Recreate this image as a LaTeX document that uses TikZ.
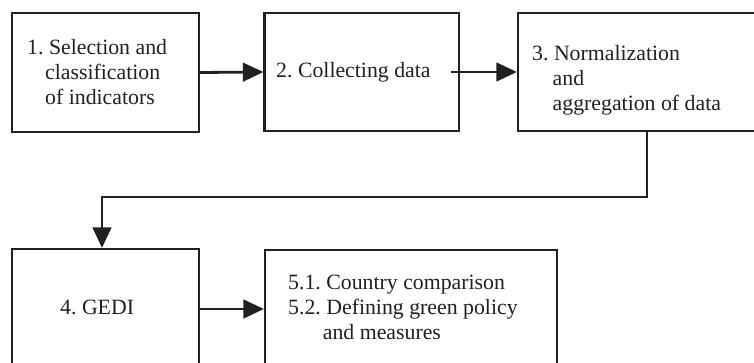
\documentclass[tikz,border=0pt]{standalone}
\usepackage{fontspec}
\setmainfont{Liberation Serif}
\frenchspacing
\usetikzlibrary{arrows.meta}
\definecolor{ink}{HTML}{231F20}
\tikzset{
  box/.style={draw=ink, line width=2.2pt, rectangle, inner sep=0pt},
  lbl/.style={anchor=base west, inner sep=0pt, text=ink, font=\fontsize{21.8}{25}\selectfont},
  arr/.style={draw=ink, line width=2.8pt, -{Triangle[length=20.5pt,width=18.5pt]}},
}
\begin{document}
\begin{tikzpicture}[x=1pt,y=-1pt]
\useasboundingbox (0,0) rectangle (754,363);
\clip (0,0) rectangle (754,363);
% boxes
\node[box, minimum width=187pt, minimum height=119pt] (b1) at (105.5,72.5) {};
\node[box, minimum width=194.5pt, minimum height=118pt] (b2) at (361.75,72) {};
\node[box, minimum width=300pt, minimum height=118pt] (b3) at (668,72) {};
\node[box, minimum width=187pt, minimum height=171pt] (b4) at (105.5,334.5) {};
\node[box, minimum width=292pt, minimum height=170pt] (b5) at (411,335) {};
% texts
\node[lbl] (t1a) at (27,54.5) {1. Selection and};
\node[lbl] (t1b) at (45,79.5) {classification};
\node[lbl] (t1c) at (45,104.5) {of indicators};
\node[lbl] (t2a) at (276,77.3) {2. Collecting data};
\node[lbl] (t3a) at (532,60.7) {3. Normalization};
\node[lbl] (t3b) at (552.5,86) {and};
\node[lbl] (t3c) at (552.5,111) {aggregation of data};
\node[lbl] (t4a) at (60,314.3) {4. GEDI};
\node[lbl] (t5a) at (288,289.3) {5.1. Country comparison};
\node[lbl] (t5b) at (288,314) {5.2. Defining green policy};
\node[lbl] (t5c) at (322.7,339) {and measures};
% connectors
\coordinate (k1) at (647,197);
\coordinate (k2) at (102,197);
\coordinate (m) at (0,309);
\draw[arr] (b1.east) -- (b2.west);
\draw[arr] ([xshift=-9pt]b2.east) -- (b3.west);
\draw[arr, line join=miter] (b3.south -| k1) -- (k1) -- (k2) -- (b4.north -| k2);
\draw[arr] (b4.east |- m) -- (b5.west |- m);
\end{tikzpicture}
\end{document}
